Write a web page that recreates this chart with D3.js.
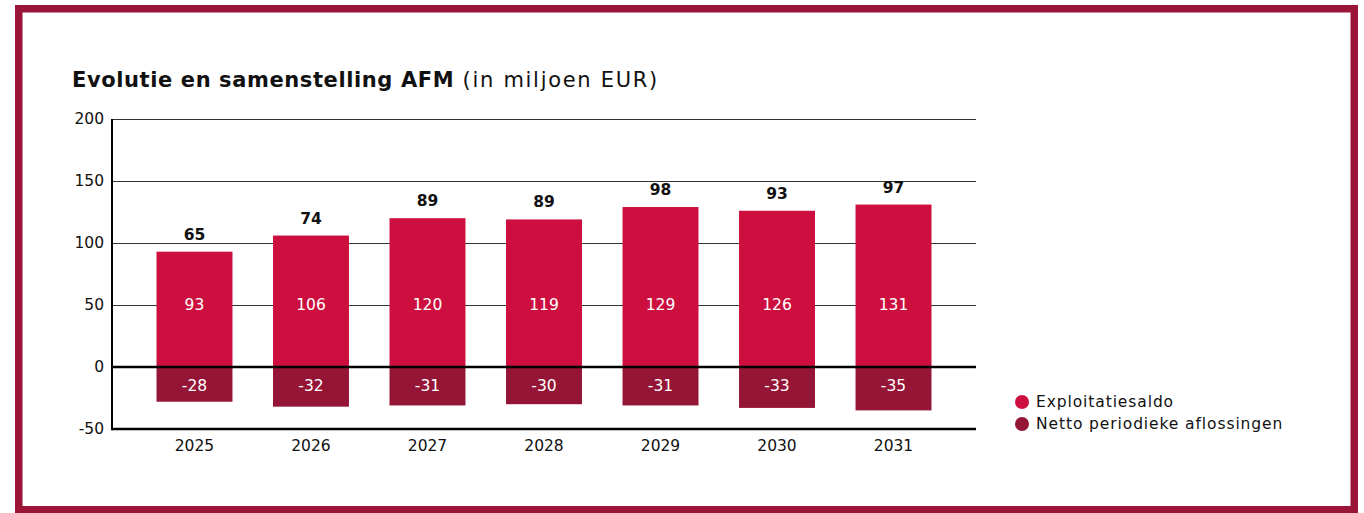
<!DOCTYPE html>
<html lang="nl">
<head>
<meta charset="UTF-8" />
<title>Evolutie en samenstelling AFM</title>
<script src="https://d3js.org/d3.v7.min.js"></script>
<style>
  body { margin: 0; background: #fff; }
  svg text { font-family: "DejaVu Sans", "Open Sans", sans-serif; }
</style>
</head>
<body>
<div id="chart"></div>
<script>
// data
var years = ["2025", "2026", "2027", "2028", "2029", "2030", "2031"];
var exploitatiesaldo = [93, 106, 120, 119, 129, 126, 131];
var aflossingen = [-28, -32, -31, -30, -31, -33, -35];
var afm = [65, 74, 89, 89, 98, 93, 97];
var yTicks = [-50, 0, 50, 100, 150, 200];
var seriesNames = ["Exploitatiesaldo", "Netto periodieke aflossingen"];
var colors = ["#cc0f3e", "#951536"];

var width = 1364, height = 513;
var svg = d3.select("#chart").append("svg")
    .attr("width", width)
    .attr("height", height);

// frame
svg.append("rect")
    .attr("x", 18.75).attr("y", 8.75)
    .attr("width", 1335.5).attr("height", 501)
    .attr("fill", "none")
    .attr("stroke", "#9a1538")
    .attr("stroke-width", 7.5);

// title
var title = svg.append("text")
    .attr("x", 72).attr("y", 87)
    .attr("font-size", 21)
    .attr("fill", "#111");
title.append("tspan").attr("font-weight", "bold").attr("letter-spacing", 0.6)
    .text("Evolutie en samenstelling AFM");
title.append("tspan").attr("font-weight", "normal").attr("letter-spacing", 1.7)
    .text(" (in miljoen EUR)");

var x = d3.scaleBand()
    .domain(years)
    .range([112, 976])
    .paddingInner(0.348)
    .paddingOuter(0.382);

var y = d3.scaleLinear()
    .domain([-50, 200])
    .range([429, 119]);

// gridlines
svg.append("g")
    .selectAll("line")
    .data(yTicks.filter(function(d) { return d > -50 && d !== 0; }))
    .enter().append("line")
    .attr("x1", 112).attr("x2", 976)
    .attr("y1", function(d) { return y(d) + 0.5; })
    .attr("y2", function(d) { return y(d) + 0.5; })
    .attr("stroke", "#333")
    .attr("stroke-width", 1);

// y tick labels
svg.append("g")
    .selectAll("text")
    .data(yTicks)
    .enter().append("text")
    .attr("x", 104)
    .attr("y", function(d) { return y(d); })
    .attr("dy", "0.35em")
    .attr("text-anchor", "end")
    .attr("font-size", 15.5)
    .attr("fill", "#111")
    .text(function(d) { return d; });

// bars
var bars = svg.append("g");
bars.selectAll("rect.pos")
    .data(years)
    .enter().append("rect")
    .attr("class", "pos")
    .attr("x", function(d) { return x(d); })
    .attr("width", x.bandwidth())
    .attr("y", function(d, i) { return y(exploitatiesaldo[i]); })
    .attr("height", function(d, i) { return y(0) - y(exploitatiesaldo[i]); })
    .attr("fill", colors[0]);

bars.selectAll("rect.neg")
    .data(years)
    .enter().append("rect")
    .attr("class", "neg")
    .attr("x", function(d) { return x(d); })
    .attr("width", x.bandwidth())
    .attr("y", y(0))
    .attr("height", function(d, i) { return y(aflossingen[i]) - y(0); })
    .attr("fill", colors[1]);

// value labels
var labels = svg.append("g").attr("text-anchor", "middle");
labels.selectAll("text.pos")
    .data(years)
    .enter().append("text")
    .attr("x", function(d) { return x(d) + x.bandwidth() / 2; })
    .attr("y", y(50))
    .attr("dy", "0.35em")
    .attr("font-size", 15.5)
    .attr("fill", "#fff")
    .text(function(d, i) { return exploitatiesaldo[i]; });

labels.selectAll("text.neg")
    .data(years)
    .enter().append("text")
    .attr("x", function(d) { return x(d) + x.bandwidth() / 2; })
    .attr("y", y(-15))
    .attr("dy", "0.35em")
    .attr("font-size", 15.5)
    .attr("fill", "#fff")
    .text(function(d, i) { return aflossingen[i]; });

labels.selectAll("text.tot")
    .data(years)
    .enter().append("text")
    .attr("x", function(d) { return x(d) + x.bandwidth() / 2; })
    .attr("y", function(d, i) { return y(exploitatiesaldo[i]) - 12; })
    .attr("font-size", 15.5)
    .attr("font-weight", "bold")
    .attr("fill", "#111")
    .text(function(d, i) { return afm[i]; });

// zero line + axes
svg.append("line")
    .attr("x1", 112).attr("x2", 976)
    .attr("y1", y(0)).attr("y2", y(0))
    .attr("stroke", "#000").attr("stroke-width", 2.5);
svg.append("line")
    .attr("x1", 112).attr("x2", 976)
    .attr("y1", y(-50)).attr("y2", y(-50))
    .attr("stroke", "#000").attr("stroke-width", 2.5);
svg.append("line")
    .attr("x1", 112).attr("x2", 112)
    .attr("y1", y(200)).attr("y2", y(-50) + 1.25)
    .attr("stroke", "#000").attr("stroke-width", 2);

// x labels
svg.append("g")
    .selectAll("text")
    .data(years)
    .enter().append("text")
    .attr("x", function(d) { return x(d) + x.bandwidth() / 2; })
    .attr("y", 451)
    .attr("text-anchor", "middle")
    .attr("font-size", 15.5)
    .attr("fill", "#111")
    .text(function(d) { return d; });

// legend
var legend = svg.append("g")
    .selectAll("g")
    .data(seriesNames)
    .enter().append("g")
    .attr("transform", function(d, i) { return "translate(1022," + (402 + i * 22) + ")"; });
legend.append("circle")
    .attr("r", 7)
    .attr("fill", function(d, i) { return colors[i]; });
legend.append("text")
    .attr("x", 14)
    .attr("dy", "0.35em")
    .attr("font-size", 15.5)
    .attr("letter-spacing", 0.9)
    .attr("fill", "#111")
    .text(function(d) { return d; });
</script>
</body>
</html>
